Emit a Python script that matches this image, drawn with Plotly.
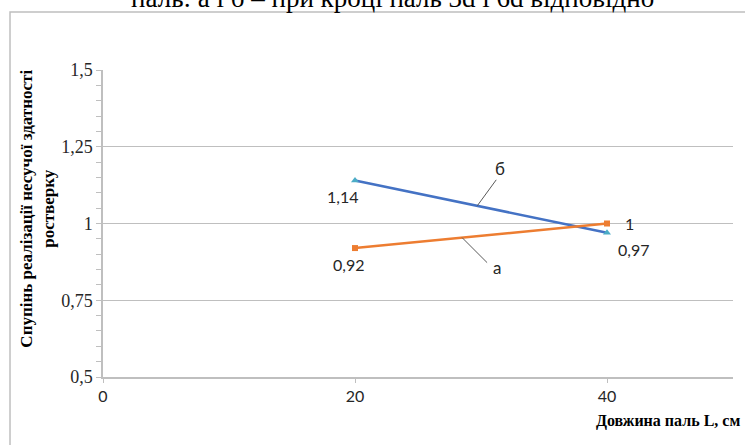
import plotly.graph_objects as go

x_vals = [20, 40]
series_a = [0.92, 1.00]
series_b = [1.14, 0.97]
labels_a = ["0,92", "1"]
labels_b = ["1,14", "0,97"]
y_tickvals = [0.5, 0.75, 1.0, 1.25, 1.5]
y_ticktext = ["0,5", "0,75", "1", "1,25", "1,5"]
x_tickvals = [0, 20, 40]
x_ticktext = ["0", "20", "40"]

title_text = "паль: а і б – при кроці паль 3d і 6d відповідно"
y_title = "Спупінь реалізації несучої здатності<br>ростверку"
x_title = "Довжина паль L, см"

SERIF = "Liberation Serif"
SANS = "Lato"
BLUE = "#4472C4"
ORANGE = "#ED7D31"
TRI = "#4BACC6"
GRID = "#BFBFBF"
TXT = "#262626"
LEAD = "#595959"

fig = go.Figure()
fig.add_trace(go.Scatter(x=x_vals, y=series_b, mode="lines+markers",
                         line=dict(color=BLUE, width=2.5),
                         marker=dict(symbol="triangle-up", size=7, color=TRI),
                         showlegend=False))
fig.add_trace(go.Scatter(x=x_vals, y=series_a, mode="lines+markers",
                         line=dict(color=ORANGE, width=2.5),
                         marker=dict(symbol="square", size=6, color=ORANGE),
                         showlegend=False))

ann = []
shapes = []
# data labels
shifts_b = [(-13, -16), (26, -17)]
shifts_a = [(-7, -16), (22, 0)]
for xv, yv, t, (dx, dy) in zip(x_vals, series_b, labels_b, shifts_b):
    ann.append(dict(x=xv, y=yv, text=t, showarrow=False, xshift=dx, yshift=dy,
                    font=dict(family=SANS, size=16, color=TXT)))
for xv, yv, t, (dx, dy) in zip(x_vals, series_a, labels_a, shifts_a):
    ann.append(dict(x=xv, y=yv, text=t, showarrow=False, xshift=dx, yshift=dy,
                    font=dict(family=SANS, size=16, color=TXT)))


def on_line(xs, ys, xq):
    return ys[0] + (ys[1] - ys[0]) * (xq - xs[0]) / (xs[1] - xs[0])


# series leader labels: anchor on each line, leader drawn in pixel offsets
leaders = [
    ("б", series_b, 29.7, (19, -26), (23, -37)),
    ("а", series_a, 28.5, (25, 25), (35, 30)),
]
for name, ys, xq, (lx, ly), (tx, ty) in leaders:
    yq = on_line(x_vals, ys, xq)
    shapes.append(dict(type="line", xref="x", yref="y",
                       xsizemode="pixel", ysizemode="pixel",
                       xanchor=xq, yanchor=yq,
                       x0=0, y0=0, x1=lx, y1=-ly,
                       line=dict(color=LEAD, width=1)))
    ann.append(dict(x=xq, y=yq, text=name, showarrow=False,
                    xshift=tx, yshift=-ty,
                    font=dict(family=SANS, size=17, color=TXT)))

# titles
ann.append(dict(xref="paper", yref="paper", x=0.46, y=1.18, yanchor="bottom",
                xanchor="center", text=title_text, showarrow=False,
                font=dict(family=SERIF, size=27, color="#000000")))
ann.append(dict(xref="paper", yref="paper", x=-0.104, y=0.55, xanchor="center",
                yanchor="middle", text="<b>" + y_title + "</b>", textangle=-90,
                showarrow=False,
                font=dict(family=SERIF, size=17, color="#000000")))
ann.append(dict(xref="paper", yref="paper", x=0.779, y=-0.143, xanchor="left",
                yanchor="middle", text="<b>" + x_title + "</b>", showarrow=False,
                font=dict(family=SERIF, size=16, color="#000000")))

shapes.append(dict(type="rect", xref="paper", yref="paper",
                   x0=-0.1476, x1=1.2, y0=-0.4, y1=1.189,
                   line=dict(color=GRID, width=1.5), layer="below"))

fig.update_layout(
    width=745, height=445,
    margin=dict(l=103, r=12, t=70, b=68),
    paper_bgcolor="white", plot_bgcolor="white",
    annotations=ann,
    shapes=shapes,
    xaxis=dict(range=[0, 50], tickvals=x_tickvals, ticktext=x_ticktext,
               showgrid=False, zeroline=False, showline=True, linecolor=GRID,
               linewidth=1.5, ticks="outside", ticklen=4, tickcolor=GRID,
               tickfont=dict(family=SANS, size=16, color=TXT)),
    yaxis=dict(range=[0.5, 1.5], tickvals=y_tickvals, ticktext=y_ticktext,
               showgrid=True, gridcolor=GRID, gridwidth=1, zeroline=False,
               showline=True, linecolor=GRID, linewidth=1.5,
               ticks="outside", ticklen=5, tickcolor=GRID,
               minor=dict(dtick=0.05, ticks="outside", ticklen=5, tickcolor=GRID,
                          showgrid=False),
               tickfont=dict(family=SERIF, size=18, color=TXT)),
)

fig.write_html("out.html")
